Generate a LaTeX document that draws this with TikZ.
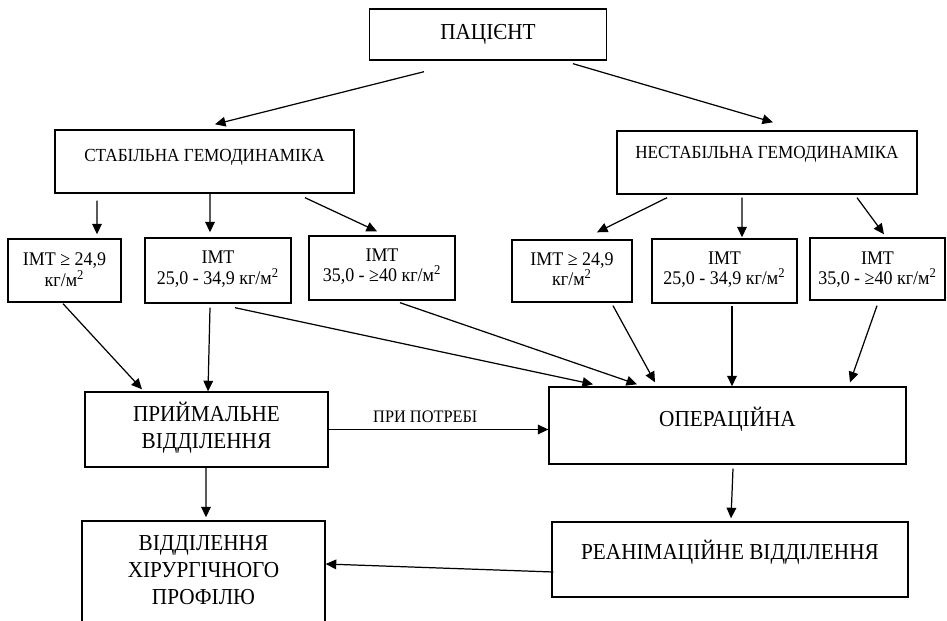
\documentclass[tikz,border=0pt]{standalone}
\usepackage{fontspec}
\setmainfont[FakeStretch=0.93]{Liberation Serif}
\usetikzlibrary{calc, arrows.meta}

\begin{document}
\begin{tikzpicture}[x=0.02cm, y=-0.02cm,
    box/.style={draw, line width=0.8pt, align=center, inner sep=0pt},
    imt/.style={box, font=\fontsize{11}{11.5}\selectfont, text height=18.8pt, text depth=#1},
    imt/.default=2pt,
    arr/.style={-{Triangle[length=6pt, width=5.5pt]}, line width=0.7pt}]
    \useasboundingbox (0,0) rectangle (947,621);
    % top and the two branches
    \node[box, minimum width=4.74cm, minimum height=1.02cm, font=\fontsize{13}{15}\selectfont] (pat) at (488,34.5) {ПАЦІЄНТ};
    \node[box, minimum width=5.98cm, minimum height=1.26cm, font=\fontsize{10.5}{12}\selectfont, text height=7pt, text depth=7.4pt] (stab) at (204.5,161.5) {СТАБІЛЬНА ГЕМОДИНАМІКА};
    \node[box, minimum width=6.0cm, minimum height=1.26cm, font=\fontsize{10.5}{12}\selectfont, text height=7pt, text depth=12pt] (nestab) at (767,162.5) {НЕСТАБІЛЬНА ГЕМОДИНАМІКА};
    % body mass index boxes
    \node[imt=1pt, minimum width=2.26cm, minimum height=1.26cm] (ba) at (64.5,270.5) {ІМТ ≥ 24,9\\кг/м\textsuperscript{2}};
    \node[imt=3.4pt, minimum width=2.92cm, minimum height=1.3cm] (bb) at (218,270.5) {ІМТ\\25,0 - 34,9 кг/м\textsuperscript{2}};
    \node[imt=3.4pt, minimum width=2.92cm, minimum height=1.28cm] (bc) at (382,268) {ІМТ\\35,0 - ≥40 кг/м\textsuperscript{2}};
    \node[imt=2.2pt, minimum width=2.4cm, minimum height=1.24cm] (bd) at (572,271) {ІМТ ≥ 24,9\\кг/м\textsuperscript{2}};
    \node[imt=3.4pt, minimum width=2.9cm, minimum height=1.28cm] (be) at (724.5,271) {ІМТ\\25,0 - 34,9 кг/м\textsuperscript{2}};
    \node[imt=1pt, minimum width=2.7cm, minimum height=1.24cm] (bf) at (877.5,269) {ІМТ\\35,0 - ≥40 кг/м\textsuperscript{2}};
    % departments
    \node[box, minimum width=4.86cm, minimum height=1.5cm, font=\fontsize{13}{15.3}\selectfont, text height=23.8pt, text depth=2.2pt] (prim) at (206.5,429.5) {ПРИЙМАЛЬНЕ\\ВІДДІЛЕННЯ};
    \node[box, minimum width=7.14cm, minimum height=1.54cm, font=\fontsize{13}{15}\selectfont, text height=8.5pt, text depth=7.4pt] (oper) at (727.5,425.5) {ОПЕРАЦІЙНА};
    \node[box, minimum width=4.86cm, minimum height=2.18cm, font=\fontsize{13}{15.3}\selectfont, text height=39.1pt, text depth=6.2pt] (surg) at (203.5,575.5) {ВІДДІЛЕННЯ\\ХІРУРГІЧНОГО\\ПРОФІЛЮ};
    \node[box, minimum width=7.12cm, minimum height=1.5cm, font=\fontsize{13}{15}\selectfont, text height=8.5pt, text depth=8.5pt] (reanim) at (730,559.5) {РЕАНІМАЦІЙНЕ ВІДДІЛЕННЯ};

    \draw[arr] ($(pat.south)+(-64,11)$) -- ($(stab.north)+(10.5,-5)$);
    \draw[arr] ($(pat.south)+(85,3)$) -- ($(nestab.north)+(6,-8)$);

    \draw[arr] ($(stab.south)+(-107.5,7)$) -- ($(ba.north)+(32.5,-4)$);
    \draw[arr] ($(stab.south)+(5.5,0)$) -- ($(bb.north)+(-8,-5)$);
    \draw[arr] ($(stab.south)+(100.5,4)$) -- ($(bc.north)+(-5,-4)$);
    \draw[arr] ($(nestab.south)+(-100,3)$) -- ($(bd.north)+(25,-7)$);
    \draw[arr] ($(nestab.south)+(-25,3)$) -- ($(be.north)+(17.5,-1)$);
    \draw[arr] ($(nestab.south)+(90,3)$) -- ($(bf.north)+(6.5,-3)$);

    \draw[arr] ($(ba.south)+(-1.5,1)$) -- ($(prim.north)+(-64.5,-2)$);
    \draw[arr] ($(bb.south)+(-8,4)$) -- ($(prim.north)+(1.5,0)$);
    \draw[arr] ($(bb.south)+(17,4)$) -- ($(oper.north)+(-134.5,-2)$);
    \draw[arr] ($(bc.south)+(18,2)$) -- ($(oper.north)+(-90.5,-2)$);
    \draw[arr] ($(bd.south)+(41,3)$) -- ($(oper.north)+(-72.5,-4)$);
    \draw[arr] ($(be.south)+(7.5,2)$) -- ($(oper.north)+(4.5,0)$);
    \draw[arr] ($(bf.south)+(-0.5,5)$) -- ($(oper.north)+(122.5,-4)$);

    \draw[arr] (prim.east) -- (oper.west |- prim.east) node[pos=0.44, above, font=\fontsize{10}{11}\selectfont] (potreby) {ПРИ ПОТРЕБІ};
    \draw[arr] ($(prim.south)+(-0.5,0)$) -- ($(surg.north)+(2.5,-3)$);
    \draw[arr] ($(oper.south)+(5.5,4)$) -- ($(reanim.north)+(1,-3)$);
    \draw[arr] ($(reanim.west)+(2,12.5)$) -- ($(surg.east)+(0,-11.5)$);
\end{tikzpicture}
\end{document}
